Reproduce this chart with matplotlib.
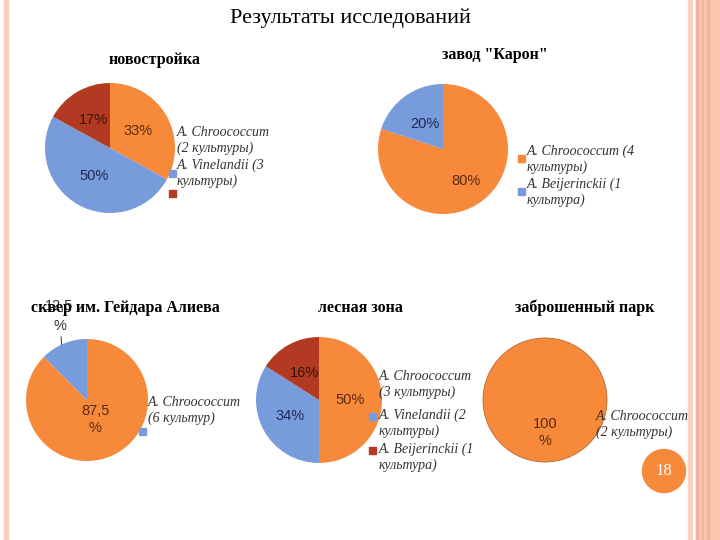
import numpy as np
import matplotlib
matplotlib.use("Agg")
import matplotlib.pyplot as plt
from matplotlib.patches import Rectangle, Ellipse

W, H = 720, 540

# ---- data ----
titles = ["новостройка", 'завод "Карон"', "сквер им. Гейдара Алиева",
          "лесная зона", "заброшенный парк"]

vals_novostr = [33, 50, 17]
labels_novostr = ["33%", "50%", "17%"]
legend_novostr = ["A. Chroococcum\n(2 культуры)", "A. Vinelandii (3\nкультуры)", ""]

vals_karon = [80, 20]
labels_karon = ["80%", "20%"]
legend_karon = ["A. Chroococcum (4\nкультуры)", "A. Beijerinckii (1\nкультура)"]

vals_skver = [87.5, 12.5]
labels_skver = ["87,5\n%", "12,5\n%"]
legend_skver = ["A. Chroococcum\n(6 культур)"]

vals_les = [50, 34, 16]
labels_les = ["50%", "34%", "16%"]
legend_les = ["A. Chroococcum\n(3 культуры)", "A. Vinelandii (2\nкультуры)",
              "A. Beijerinckii (1\nкультура)"]

vals_park = [100]
labels_park = ["100\n%"]
legend_park = ["A. Chroococcum\n(2 культуры)"]

page_num = "18"

# colours
ORANGE = "#F7893B"
BLUE = "#789BDB"
RED = "#B23A22"
txt_cols = {ORANGE: "#5A2A12", BLUE: "#1E2A55", RED: "#3A1208"}

SERIF = ["Liberation Serif", "DejaVu Serif"]
SANS = ["Liberation Sans", "DejaVu Sans"]


def fx(x):
    return x / W


def fy(y):
    return 1 - y / H


fig = plt.figure(figsize=(7.2, 5.4), dpi=100)
fig.patch.set_facecolor("white")

# slide decoration
fig.patches.append(Rectangle((fx(4), 0), 4 / W, 1, transform=fig.transFigure,
                             color="#F9CFC0", zorder=0))
fig.patches.append(Rectangle((fx(688), 0), 4 / W, 1, transform=fig.transFigure,
                             color="#F7D2C2", zorder=0))
fig.patches.append(Rectangle((fx(696), 0), 24 / W, 1, transform=fig.transFigure,
                             color="#FCC6B2", zorder=0))
for sx in [696, 701.5, 707]:
    fig.patches.append(Rectangle((fx(sx), 0), 1.5 / W, 1, transform=fig.transFigure,
                                 color="#F4B39B", zorder=0))

fig.text(fx(350), fy(18), "Результаты исследований", ha="center", va="center",
         fontsize=16, family=SERIF, color="black")


def draw_pie(cx, cy, r, vals, labels, cols, pctd, title, tx, ty):
    ax = fig.add_axes([fx(cx - r), fy(cy + r), 2 * r / W, 2 * r / H])
    wedges, _ = ax.pie(vals, colors=cols, startangle=90, counterclock=False,
                       radius=1, wedgeprops=dict(linewidth=0))
    ax.set_xlim(-1, 1)
    ax.set_ylim(-1, 1)
    ax.set_aspect("equal")
    ax.axis("off")
    for i, (w, lab) in enumerate(zip(wedges, labels)):
        if pctd[i] is None:
            continue
        a = np.deg2rad((w.theta1 + w.theta2) / 2)
        ax.text(pctd[i] * np.cos(a), pctd[i] * np.sin(a), lab, ha="center",
                va="center", fontsize=10.5, family=SANS, color=txt_cols[cols[i]],
                linespacing=1.25)
    fig.text(fx(tx), fy(ty), title, ha="center", va="center", fontsize=11.5,
             family=SERIF, fontweight="bold")
    return ax, wedges


def legend_item(mx, my, col, tx, ty, text):
    if col is not None:
        fig.patches.append(Rectangle((fx(mx - 3.5), fy(my + 3.5)), 7 / W, 7 / H,
                                     transform=fig.transFigure, color=col, zorder=5))
    if text:
        fig.text(fx(tx), fy(ty), text, ha="left", va="top", fontsize=10,
                 family=SERIF, style="italic", color="#333333", linespacing=1.2)


# 1 новостройка
draw_pie(110, 148, 65, vals_novostr, labels_novostr, [ORANGE, BLUE, RED],
         [0.5, 0.5, 0.5], titles[0], 155, 60)
legend_item(172, 173, BLUE, 177, 126, legend_novostr[0])
legend_item(172, 193, RED, 177, 159, legend_novostr[1])

# 2 завод Карон
draw_pie(443, 149, 65, vals_karon, labels_karon, [ORANGE, BLUE],
         [0.6, 0.47], titles[1], 495, 55)
legend_item(521, 158, ORANGE, 527, 145, legend_karon[0])
legend_item(521, 191, BLUE, 527, 178, legend_karon[1])

# 3 сквер
ax3, w3 = draw_pie(87, 400, 61, vals_skver, labels_skver, [ORANGE, BLUE],
                   [0.35, None], titles[2], 125, 308)
a = np.deg2rad(w3[1].theta2 - 0.45 * (w3[1].theta2 - w3[1].theta1))
ax3.annotate(labels_skver[1], xy=(np.cos(a), np.sin(a)),
             xytext=(-0.45, 1.38), ha="center", va="center", fontsize=10.5,
             family=SANS, color="#333333", linespacing=1.5,
             arrowprops=dict(arrowstyle="-", color="#333333", lw=0.7,
                             relpos=(0.55, 0), shrinkA=1, shrinkB=0),
             annotation_clip=False)
legend_item(142, 431, BLUE, 148, 396, legend_skver[0])

# 4 лесная зона
draw_pie(319, 400, 63, vals_les, labels_les, [ORANGE, BLUE, RED],
         [0.5, 0.53, 0.49], titles[3], 360, 308)
legend_item(373, 416, BLUE, 379, 370, legend_les[0])
legend_item(373, 450, RED, 379, 409, legend_les[1])
legend_item(None, None, None, 379, 443, legend_les[2])

# 5 заброшенный парк
ax5, w5 = draw_pie(545, 400, 62, vals_park, labels_park, [ORANGE],
                   [0.53], titles[4], 585, 308)
w5[0].set_edgecolor("#B86A30")
w5[0].set_linewidth(0.6)
legend_item(None, None, None, 596, 410, legend_park[0])

# page number
fig.patches.append(Ellipse((fx(664), fy(471)), 43 / W, 43 / H,
                           transform=fig.transFigure, color=ORANGE, zorder=5))
fig.text(fx(664), fy(471), page_num, ha="center", va="center", fontsize=12,
         family=SERIF, color="white", zorder=6)

fig.savefig("out.png", dpi=100)
